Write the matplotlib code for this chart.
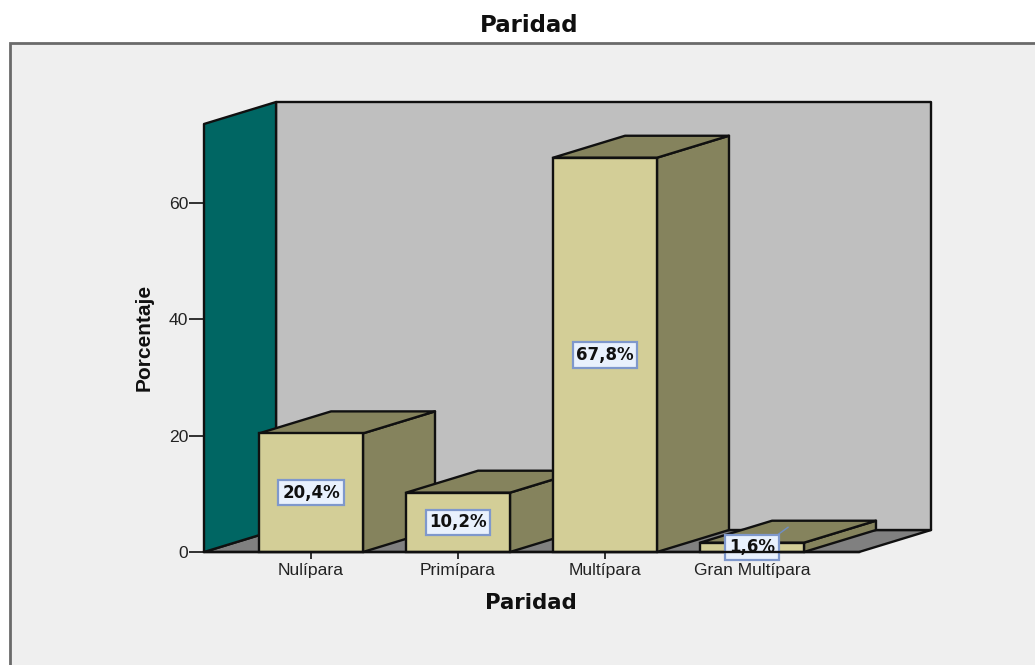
import matplotlib
matplotlib.use("Agg")
import matplotlib.pyplot as plt
from matplotlib.patches import Polygon, Rectangle

categorias = ["Nulípara", "Primípara", "Multípara", "Gran Multípara"]
porcentajes = [20.4, 10.2, 67.8, 1.6]
etiquetas = ["20,4%", "10,2%", "67,8%", "1,6%"]
ticks_y = [0, 20, 40, 60]

# tamaño del grafico y profundidad del efecto 3D (en unidades de los ejes)
ancho_barra = 0.707
prof_x = 0.49
prof_y = 3.78
x_min, x_max = -0.728, 3.728
y_max = 73.6

negro = "#101010"
col_frente = "#d3ce97"
col_lado = "#85835d"
col_pared = "#bfbfbf"
col_suelo = "#808080"
col_izq = "#006663"

plt.rcParams["font.family"] = ["Liberation Sans", "DejaVu Sans"]

W, H = 1035, 665
fig = plt.figure(figsize=(W / 100, H / 100), dpi=100, facecolor="white")

# panel gris claro de fondo, se sale por la derecha y por abajo
fig.add_artist(Rectangle((10 / W, -0.05), 1.2, 1 - 43 / H + 0.05, transform=fig.transFigure,
                         facecolor="#efefef", edgecolor="#6a6a6a", linewidth=2, zorder=-1))

ax = fig.add_axes([204 / W, 1 - 552 / H, (859 - 204) / W, (552 - 124) / H])
ax.set_xlim(x_min, x_max)
ax.set_ylim(0, y_max)
ax.patch.set_visible(False)
for s in ["top", "right", "left"]:
    ax.spines[s].set_visible(False)
ax.spines["bottom"].set_color(negro)
ax.spines["bottom"].set_linewidth(1.7)
ax.spines["bottom"].set_zorder(20)


def cara(puntos, color, z):
    ax.add_patch(Polygon(puntos, closed=True, facecolor=color, edgecolor=negro,
                         linewidth=1.7, joinstyle="round", clip_on=False, zorder=z))


# paredes y suelo
cara([(x_min, 0), (x_min + prof_x, prof_y), (x_max + prof_x, prof_y), (x_max, 0)], col_suelo, 1)
cara([(x_min + prof_x, prof_y), (x_min + prof_x, y_max + prof_y),
      (x_max + prof_x, y_max + prof_y), (x_max + prof_x, prof_y)], col_pared, 1)
cara([(x_min, 0), (x_min, y_max), (x_min + prof_x, y_max + prof_y), (x_min + prof_x, prof_y)], col_izq, 2)

# barras 3D, de izquierda a derecha para que se tapen bien
for i, v in enumerate(porcentajes):
    x0 = i - ancho_barra / 2
    x1 = i + ancho_barra / 2
    z = 3 + i
    cara([(x1, 0), (x1 + prof_x, prof_y), (x1 + prof_x, v + prof_y), (x1, v)], col_lado, z)
    cara([(x0, v), (x0 + prof_x, v + prof_y), (x1 + prof_x, v + prof_y), (x1, v)], col_lado, z)
    ax.bar(i, v, width=ancho_barra, color=col_frente, edgecolor=negro, linewidth=1.7, zorder=z, clip_on=False)

# linea guia de la etiqueta de la barra pequeña
ax.plot([3 + 0.1, 3 + prof_x / 2], [porcentajes[3], porcentajes[3] + prof_y * 0.7],
        color="#6f8fc8", linewidth=1, zorder=9, clip_on=False)

for i, (v, t) in enumerate(zip(porcentajes, etiquetas)):
    ax.text(i, v / 2, t, ha="center", va="center", fontsize=12, fontweight="bold", color=negro, zorder=10,
            family="DejaVu Sans",
            bbox=dict(boxstyle="square,pad=0.22", facecolor="#e9f1fd", edgecolor="#7f98cc", linewidth=1.6))

ax.set_xticks(range(len(categorias)))
ax.set_xticklabels(categorias, fontsize=12.6, color="#222222")
ax.set_yticks(ticks_y)
ax.set_yticklabels(ticks_y, fontsize=12.6, color="#222222")
ax.tick_params(axis="x", length=5, width=1.2, color=negro, pad=3)
ax.tick_params(axis="y", length=11, width=1.2, color=negro, pad=0.5)

ax.set_xlabel("Paridad", fontsize=15.3, fontweight="bold", family="DejaVu Sans", color=negro)
ax.xaxis.set_label_coords((531 - 204) / (859 - 204), -(603 - 552) / (552 - 124), transform=ax.transAxes)
ax.xaxis.label.set_va("center")
ax.set_ylabel("Porcentaje", fontsize=15, fontweight="bold", color=negro)
ax.yaxis.set_label_coords(-(204 - 144) / (859 - 204), (552 - 337) / (552 - 124), transform=ax.transAxes)
ax.yaxis.label.set_va("center")

fig.suptitle("Paridad", x=529 / W, y=1 - 25 / H, va="center", fontsize=16.5, fontweight="bold",
             family="DejaVu Sans", color=negro)

fig.savefig("out.png", dpi=100)
